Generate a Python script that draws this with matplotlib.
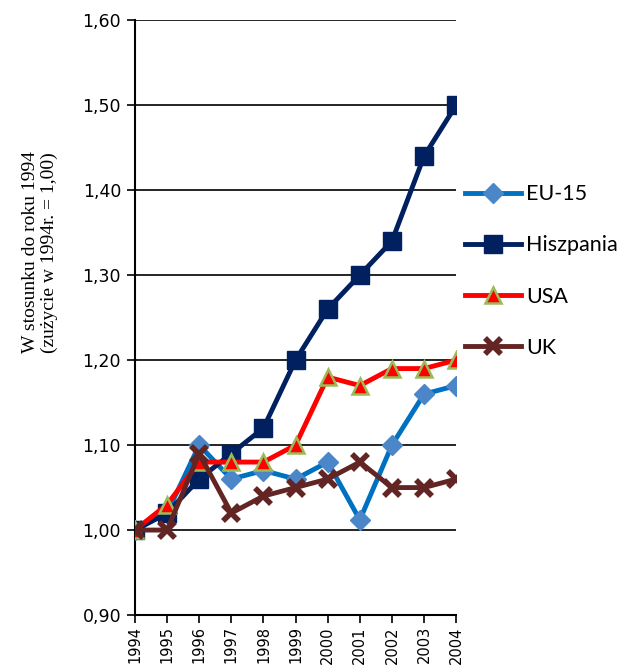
import matplotlib.pyplot as plt
from matplotlib.ticker import FuncFormatter

# years and indexed consumption (1994 = 1.00)
years = [1994, 1995, 1996, 1997, 1998, 1999, 2000, 2001, 2002, 2003, 2004]
eu15 = [1.00, 1.02, 1.10, 1.06, 1.07, 1.06, 1.08, 1.012, 1.10, 1.16, 1.17]
hiszpania = [1.00, 1.02, 1.06, 1.09, 1.12, 1.20, 1.26, 1.30, 1.34, 1.44, 1.50]
usa = [1.00, 1.03, 1.08, 1.08, 1.08, 1.10, 1.18, 1.17, 1.19, 1.19, 1.20]
uk = [1.00, 1.00, 1.09, 1.02, 1.04, 1.05, 1.06, 1.08, 1.05, 1.05, 1.06]

fig = plt.figure(figsize=(6.19, 6.7), dpi=100)
ax = fig.add_axes([0.218, 0.082, 0.519, 0.888])

ax.plot(years, eu15, color='#0070C0', lw=3.5, marker='D', ms=10,
        mfc='#4A86C8', mec='#4A86C8', label='EU-15', zorder=3)
ax.plot(years, hiszpania, color='#002060', lw=3.5, marker='s', ms=12.5,
        mfc='#002060', mec='#002060', label='Hiszpania', zorder=3)
ax.plot(years, usa, color='#FF0000', lw=3.5, marker='^', ms=12,
        mfc='#FF0000', mec='#9BBB59', mew=1.8, label='USA', zorder=3)
ax.plot(years, uk, color='#632523', lw=3.5, marker='x', ms=11.5, mew=4,
        mec='#632523', label='UK', zorder=3)

ax.set_xlim(1994, 2004)
ax.set_ylim(0.90, 1.60)
ax.set_xticks(years)
ax.set_xticklabels([str(y) for y in years], rotation=90, fontsize=10.5)
ax.set_yticks([0.9, 1.0, 1.1, 1.2, 1.3, 1.4, 1.5, 1.6])
ax.yaxis.set_major_formatter(FuncFormatter(lambda v, p: f'{v:.2f}'.replace('.', ',')))
ax.tick_params(axis='y', labelsize=12.5, direction='out', length=6, width=1.2, pad=4)
ax.tick_params(axis='x', direction='out', length=6, width=1.2, pad=2)
ax.grid(axis='y', color='black', lw=1.2)
ax.set_axisbelow(True)
for s in ['top', 'right']:
    ax.spines[s].set_visible(False)
for s in ['left', 'bottom']:
    ax.spines[s].set_linewidth(1.5)

ax.set_ylabel('W stosunku do roku 1994\n(zużycie w 1994r. = 1,00)',
              family='Liberation Serif', fontsize=14, linespacing=1.1)
ax.yaxis.set_label_coords(-0.24, 0.61)

ax.legend(loc='upper left', bbox_to_anchor=(0.751, 0.725),
          bbox_transform=fig.transFigure, frameon=False,
          prop={'family': 'Lato', 'size': 15.5}, handlelength=2.6,
          labelspacing=1.45, handletextpad=0.25, borderaxespad=0, borderpad=0)

fig.savefig('out.png', dpi=100)
